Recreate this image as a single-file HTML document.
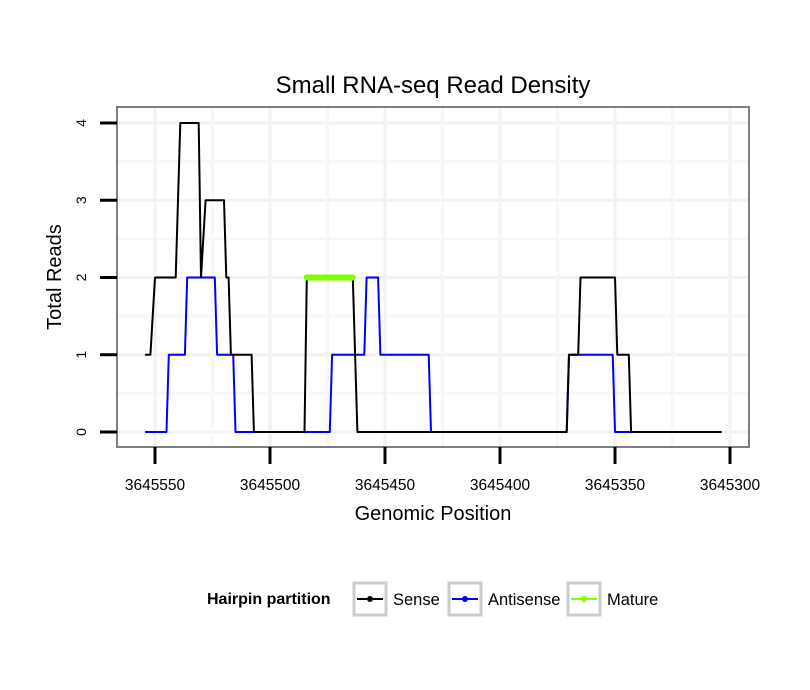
<!DOCTYPE html>
<html><head><meta charset="utf-8"><style>
body{margin:0;background:#fff;font-family:"Liberation Sans",sans-serif;}
svg{display:block}
</style></head><body>
<svg id="chart" width="810" height="690">
<rect width="810" height="690" fill="#fff"/>
<text x="433" y="93" text-anchor="middle" font-size="24">Small RNA-seq Read Density</text>
<g id="grid"></g>
<g id="series"></g>
<rect x="117" y="107" width="632" height="340" fill="none" stroke="#7f7f7f" stroke-width="2"/>
<g id="axes"></g>
<text x="433" y="520" text-anchor="middle" font-size="20">Genomic Position</text>
<text transform="translate(61,277) rotate(-90)" text-anchor="middle" font-size="20">Total Reads</text>
<g font-size="16.5">
<text x="207" y="604" font-weight="bold" font-size="16">Hairpin partition</text>
<g>
<rect x="354" y="583" width="32" height="32" fill="#fff" stroke="#ccc" stroke-width="3"/>
<line x1="357" y1="599" x2="383" y2="599" stroke="#000" stroke-width="2"/><circle cx="370" cy="599" r="3" fill="#000"/>
<text x="393" y="605">Sense</text></g>
<g>
<rect x="449" y="583" width="32" height="32" fill="#fff" stroke="#ccc" stroke-width="3"/>
<line x1="452" y1="599" x2="478" y2="599" stroke="#00f" stroke-width="2"/><circle cx="465" cy="599" r="3" fill="#00f"/>
<text x="488" y="605">Antisense</text></g>
<g>
<rect x="568" y="583" width="32" height="32" fill="#fff" stroke="#ccc" stroke-width="3"/>
<line x1="571" y1="599" x2="597" y2="599" stroke="#7fff00" stroke-width="2"/><circle cx="584" cy="599" r="3" fill="#7fff00"/>
<text x="607" y="605">Mature</text></g>
</g>
</svg>
<script>
const xTicks=[3645550,3645500,3645450,3645400,3645350,3645300];
const yTicks=[0,1,2,3,4];
const sensePos=[3645554,3645552,3645550,3645541,3645539,3645531,3645530,3645528,3645520,3645519,3645518,3645517,3645508,3645507,3645485,3645484,3645464,3645462,3645371,3645370,3645366,3645365,3645350,3645349,3645344,3645343,3645304];
const senseVal=[1,1,2,2,4,4,2,3,3,2,2,1,1,0,0,2,2,0,0,1,1,2,2,1,1,0,0];
const antiPos=[3645554,3645545,3645544,3645537,3645536,3645524,3645523,3645516,3645515,3645474,3645473,3645459,3645458,3645453,3645452,3645431,3645430,3645371,3645370,3645351,3645350,3645304];
const antiVal=[0,0,1,1,2,2,1,1,0,0,1,1,2,2,1,1,0,0,1,1,0,0];
const maturePos=[3645484,3645464];
const matureVal=[2,2];
const X=v=>155+(3645550-v)*2.3;
const Y=v=>432-v*77.25;
const NS="http://www.w3.org/2000/svg";
function mk(tag,attrs,parent){const e=document.createElementNS(NS,tag);for(const k in attrs)e.setAttribute(k,attrs[k]);parent.appendChild(e);return e;}
const grid=document.getElementById('grid'),axes=document.getElementById('axes'),series=document.getElementById('series');
for(let i=0;i<yTicks.length;i++){
 const g=mk('line',{x1:118,x2:748,y1:Y(yTicks[i]),y2:Y(yTicks[i]),stroke:'#f2f2f2','stroke-width':3},grid);
 
 
 if(i<yTicks.length-1){const m=mk('line',{x1:118,x2:748,y1:Y(yTicks[i]+0.5),y2:Y(yTicks[i]+0.5),stroke:'#f7f7f7','stroke-width':3},grid);
 
 }
 const t=mk('line',{x1:100,x2:117,y1:Y(yTicks[i]),y2:Y(yTicks[i]),stroke:'#000','stroke-width':3},axes);
 
 
 const l=mk('text',{transform:`translate(86,${Y(yTicks[i])}) rotate(-90)`,'text-anchor':'middle','font-size':14},axes);
 l.textContent=yTicks[i];
 
 
}
for(let i=0;i<xTicks.length;i++){
 const g=mk('line',{x1:X(xTicks[i]),x2:X(xTicks[i]),y1:108,y2:446,stroke:'#f2f2f2','stroke-width':3},grid);
 
 
 const mv=xTicks[i]+25;
 if(X(mv)>118){const m=mk('line',{x1:X(mv),x2:X(mv),y1:108,y2:446,stroke:'#f7f7f7','stroke-width':3},grid);
 
 }
 const t=mk('line',{x1:X(xTicks[i]),x2:X(xTicks[i]),y1:447,y2:464,stroke:'#000','stroke-width':3},axes);
 
 
 const l=mk('text',{x:X(xTicks[i]),y:490,'text-anchor':'middle','font-size':15.5},axes);
 l.textContent=xTicks[i];
 
 
}
function line(pos,val,color,w,name){
 const p=mk('polyline',{points:pos.map((v,i)=>X(v)+','+Y(val[i])).join(' '),fill:'none',stroke:color,'stroke-width':w,'stroke-linecap':'round','stroke-linejoin':'round'},series);
 
 
}
line(antiPos,antiVal,'#0000ff',2,'antisense-line');
line(sensePos,senseVal,'#000000',2,'sense-line');
line(maturePos,matureVal,'#7fff00',6,'mature-line');
</script>
</body></html>
